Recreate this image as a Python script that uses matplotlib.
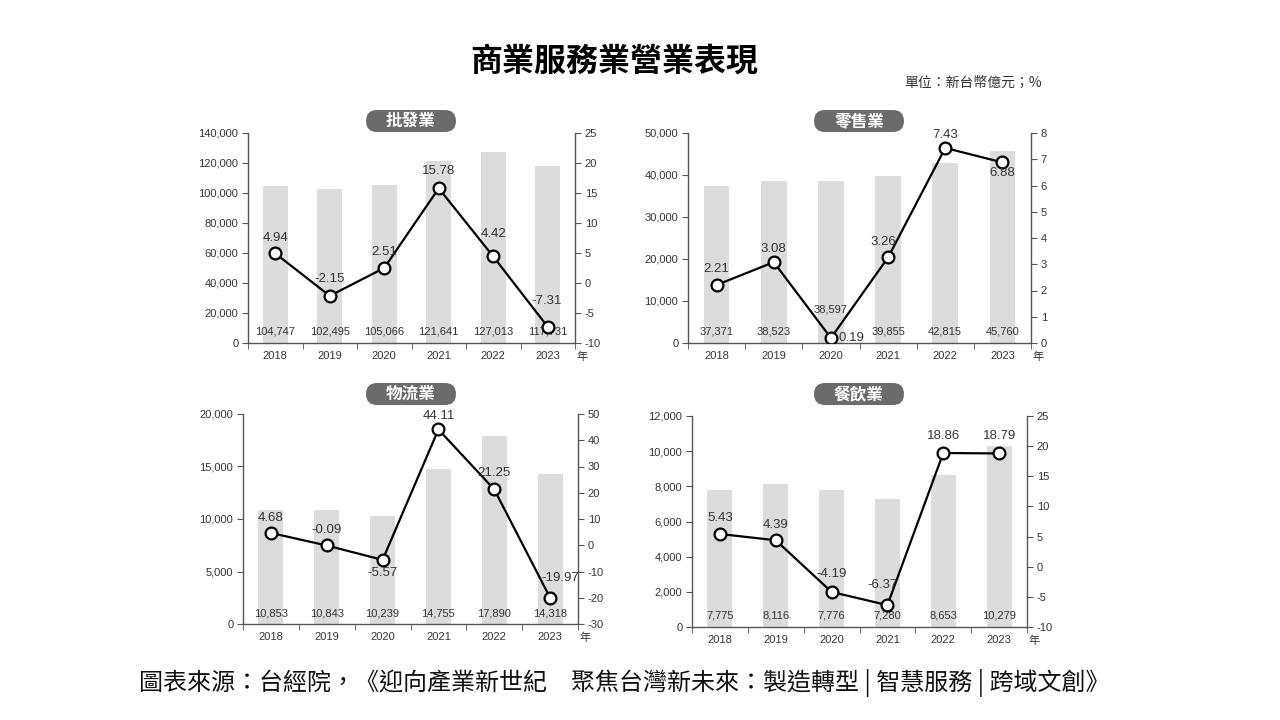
"""Recreate the 商業服務業營業表現 four-panel bar + growth-line chart."""

import matplotlib

matplotlib.use("Agg")
import matplotlib.pyplot as plt
from matplotlib.patches import FancyBboxPatch
from matplotlib.transforms import IdentityTransform

plt.rcParams["font.family"] = ["Liberation Sans", "Noto Sans CJK TC", "DejaVu Sans"]
plt.rcParams["axes.unicode_minus"] = False

YEARS = ["2018", "2019", "2020", "2021", "2022", "2023"]

WHOLESALE_REVENUE = [104747, 102495, 105066, 121641, 127013, 117731]
WHOLESALE_GROWTH = [4.94, -2.15, 2.51, 15.78, 4.42, -7.31]

RETAIL_REVENUE = [37371, 38523, 38597, 39855, 42815, 45760]
RETAIL_GROWTH = [2.21, 3.08, 0.19, 3.26, 7.43, 6.88]

LOGISTICS_REVENUE = [10853, 10843, 10239, 14755, 17890, 14318]
LOGISTICS_GROWTH = [4.68, -0.09, -5.57, 44.11, 21.25, -19.97]

FOOD_REVENUE = [7775, 8116, 7776, 7280, 8653, 10279]
FOOD_GROWTH = [5.43, 4.39, -4.19, -6.37, 18.86, 18.79]

BAR_COLOR = "#dcdcdc"
AXIS_COLOR = "#555555"
TEXT_COLOR = "#333333"
PILL_COLOR = "#6b6b6b"

W, H = 1280, 720


def px_rect(left, top, right, bottom):
    """Pixel box (top-left origin) -> figure fraction rect."""
    return [left / W, (H - bottom) / H, (right - left) / W, (bottom - top) / H]


def draw_pill(fig, cx, cy, text, width=90, height=22):
    box = FancyBboxPatch(
        (cx - width / 2, H - cy - height / 2),
        width,
        height,
        boxstyle=f"round,pad=0,rounding_size={height / 2}",
        transform=IdentityTransform(),
        facecolor=PILL_COLOR,
        edgecolor="none",
        zorder=5,
    )
    fig.patches.append(box)
    fig.text(
        cx / W,
        (H - cy) / H,
        text,
        ha="center",
        va="center",
        color="white",
        fontsize=12,
        fontweight="bold",
        family=["Noto Sans CJK TC"],
        zorder=6,
    )


def draw_panel(fig, rect, revenue, growth, left_ticks, right_ticks,
               label_offsets, bar_label_dy):
    ax = fig.add_axes(rect)
    x = list(range(len(YEARS)))
    ax.bar(x, revenue, width=0.45, color=BAR_COLOR, zorder=1)
    ax.set_xlim(-0.5, len(YEARS) - 0.5)
    ax.set_ylim(left_ticks[0], left_ticks[-1])
    ax.set_yticks(left_ticks)
    ax.set_yticklabels([f"{t:,}" for t in left_ticks])
    ax.set_xticks(x)
    ax.set_xticklabels(YEARS)
    ax.set_xticks([i - 0.5 for i in range(len(YEARS) + 1)], minor=True)
    ax.tick_params(axis="x", which="major", length=0, pad=6,
                   labelsize=8, labelcolor=TEXT_COLOR)
    ax.tick_params(axis="x", which="minor", length=4, color=AXIS_COLOR,
                   direction="out")
    ax.tick_params(axis="y", length=4, color=AXIS_COLOR, labelsize=8,
                   labelcolor=TEXT_COLOR, pad=3)
    for name in ("top", "right"):
        ax.spines[name].set_visible(False)
    for name in ("left", "bottom"):
        ax.spines[name].set_color(AXIS_COLOR)
        ax.spines[name].set_linewidth(1.0)

    for i, v in enumerate(revenue):
        ax.annotate(f"{v:,}", (i, 0), xytext=(0, bar_label_dy[i]),
                    textcoords="offset pixels", ha="center", va="center",
                    fontsize=8, color=TEXT_COLOR, zorder=2)

    ax2 = ax.twinx()
    ax2.plot(x, growth, color="black", linewidth=1.6, marker="o",
             markersize=8.5, markerfacecolor="white", markeredgecolor="black",
             markeredgewidth=1.6, zorder=3)
    ax2.set_ylim(right_ticks[0], right_ticks[-1])
    ax2.set_yticks(right_ticks)
    ax2.set_yticklabels([str(t) for t in right_ticks])
    ax2.tick_params(axis="y", length=4, color=AXIS_COLOR, labelsize=8,
                    labelcolor=TEXT_COLOR, pad=3)
    for name in ("top", "left", "bottom"):
        ax2.spines[name].set_visible(False)
    ax2.spines["right"].set_color(AXIS_COLOR)
    ax2.spines["right"].set_linewidth(1.0)

    for i, v in enumerate(growth):
        dx, dy = label_offsets[i]
        ax2.annotate(f"{v:.2f}", (i, v), xytext=(dx, dy),
                     textcoords="offset pixels", ha="center", va="center",
                     fontsize=9.5, color=TEXT_COLOR, zorder=4)

    ax.annotate("年", (1.0, 0), xycoords="axes fraction", xytext=(1, -14),
                textcoords="offset pixels", ha="left", va="center",
                fontsize=8, color=TEXT_COLOR, family=["Noto Sans CJK TC"])
    return ax, ax2


fig = plt.figure(figsize=(12.8, 7.2), dpi=100)
fig.patch.set_facecolor("white")

fig.text(614 / W, (H - 62) / H, "商業服務業營業表現", ha="center", va="center",
         fontsize=23, fontweight="bold", family=["Noto Sans CJK TC"])
fig.text(1042 / W, (H - 83) / H, "單位：新台幣億元；%", ha="right", va="center",
         fontsize=10, color=TEXT_COLOR, family=["Noto Sans CJK TC"])
fig.text(624 / W, (H - 683) / H,
         "圖表來源：台經院，《迎向產業新世紀　聚焦台灣新未來：製造轉型 | 智慧服務 | 跨域文創》",
         ha="center", va="center", fontsize=17.3, color="#111111",
         family=["Noto Sans CJK TC", "DejaVu Sans"])

draw_panel(
    fig, px_rect(248, 133, 575, 343),
    WHOLESALE_REVENUE, WHOLESALE_GROWTH,
    list(range(0, 140001, 20000)), list(range(-10, 26, 5)),
    [(0, 15), (0, 17), (0, 16), (0, 17), (0, 22), (-1, 26)],
    [11] * 6,
)
draw_pill(fig, 411, 121, "批發業")

draw_panel(
    fig, px_rect(688, 133, 1031, 343),
    RETAIL_REVENUE, RETAIL_GROWTH,
    list(range(0, 50001, 10000)), list(range(0, 9, 1)),
    [(0, 16), (0, 13), (21, 0), (-5, 15), (0, 13), (0, -11)],
    [11, 11, 33, 11, 11, 11],
)
draw_pill(fig, 859, 121, "零售業")

draw_panel(
    fig, px_rect(243, 414, 578, 624),
    LOGISTICS_REVENUE, LOGISTICS_GROWTH,
    list(range(0, 20001, 5000)), list(range(-30, 51, 10)),
    [(0, 15), (0, 15), (0, -13), (0, 13), (0, 16), (10, 20)],
    [11] * 6,
)
draw_pill(fig, 411, 394, "物流業")

draw_panel(
    fig, px_rect(692, 416, 1027, 627),
    FOOD_REVENUE, FOOD_GROWTH,
    list(range(0, 12001, 2000)), list(range(-10, 26, 5)),
    [(0, 16), (0, 15), (0, 18), (-5, 20), (0, 17), (0, 17)],
    [11] * 6,
)
draw_pill(fig, 859, 394, "餐飲業")

fig.savefig("out.png", dpi=100)
